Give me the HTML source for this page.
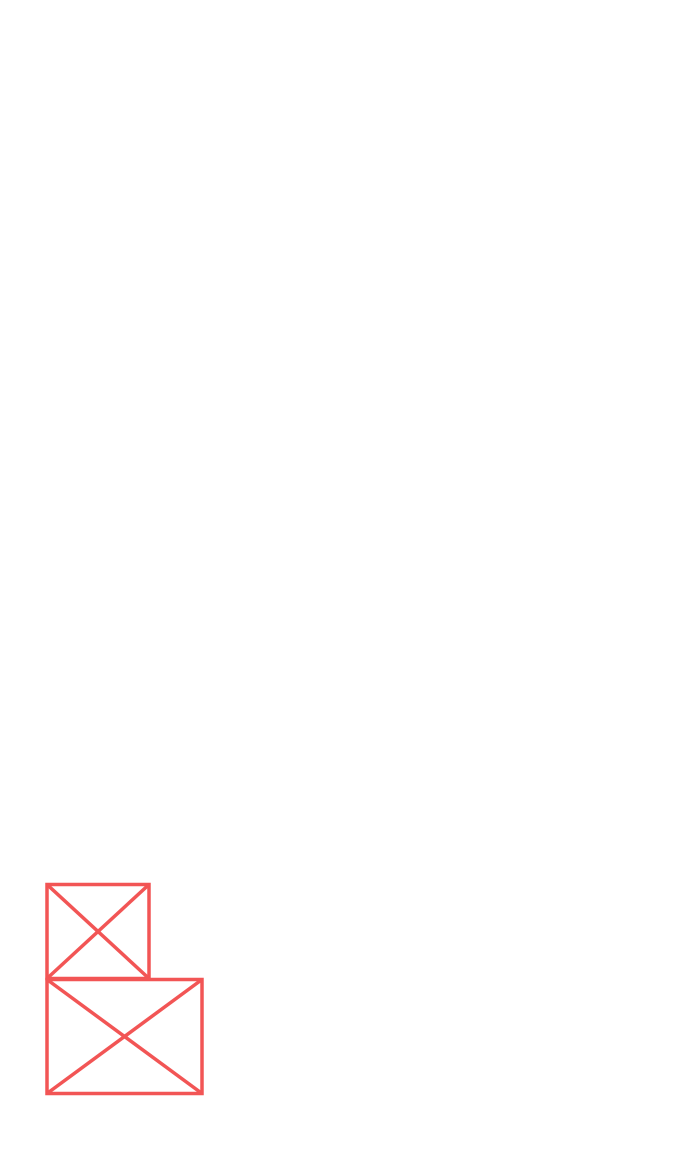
<!DOCTYPE html>
<html><head><meta charset="utf-8"><style>
html,body{margin:0;padding:0;background:#fff;width:674px;height:1151px;overflow:hidden}
svg{position:absolute;left:0;top:0}
</style></head><body>
<svg width="674" height="1151">
<g stroke="#f25555" stroke-width="3.5" fill="none">
<g>
<rect x="47" y="884.5" width="102" height="94"/>
<line x1="47" y1="884.5" x2="149" y2="978.5"/>
<line x1="149" y1="884.5" x2="47" y2="978.5"/>
</g>
<g>
<rect x="47" y="979.5" width="155" height="114"/>
<line x1="47" y1="979.5" x2="202" y2="1093.5"/>
<line x1="202" y1="979.5" x2="47" y2="1093.5"/>
</g>
</g>
</svg>
</body></html>
